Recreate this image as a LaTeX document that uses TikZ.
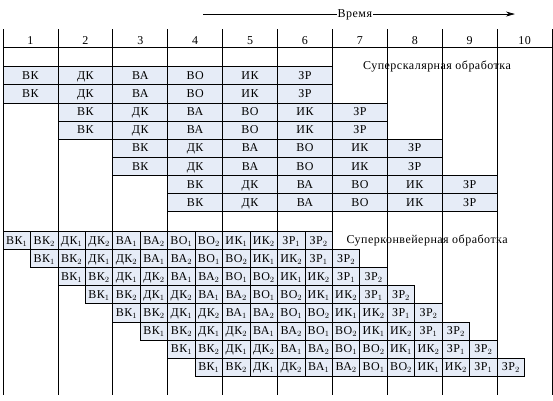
\documentclass[tikz,border=0pt]{standalone}
\usepackage{fontspec}
\setmainfont{Liberation Serif}[LetterSpace=4]
\usetikzlibrary{arrows.meta}

\definecolor{cellblue}{RGB}{230,236,247}

\begin{document}
\begin{tikzpicture}[x=27.45pt,y=-18.1pt,font=\fontsize{12pt}{14pt}\selectfont]
\tikzset{
  stagecell/.style={draw,fill=cellblue,line width=0.75pt,minimum width=54.9pt,minimum height=18.1pt,inner sep=0pt,text height=7.5pt,text depth=0pt},
  halfcell/.style={stagecell,minimum width=27.45pt},
  gridline/.style={line width=0.75pt},
  colnum/.style={anchor=base,inner sep=0pt},
  caption/.style={anchor=base,inner sep=0pt},
  timearrow/.style={-{Stealth[length=9pt,width=5pt]},line width=0.75pt}
}
\useasboundingbox (-3pt,66.7pt) rectangle (550pt,-333.3pt);
% column grid
\draw[gridline] (0,-2.08) -- (0,18.14);
\draw[gridline] (2,-2.08) -- (2,18.14);
\draw[gridline] (4,-2.08) -- (4,18.14);
\draw[gridline] (6,-2.08) -- (6,18.14);
\draw[gridline] (8,-2.08) -- (8,18.14);
\draw[gridline] (10,-2.08) -- (10,18.14);
\draw[gridline] (12,-2.08) -- (12,18.14);
\draw[gridline] (14,-2.08) -- (14,18.14);
\draw[gridline] (16,-2.08) -- (16,18.14);
\draw[gridline] (18,-2.08) -- (18,18.14);
\draw[gridline] (20,-2.08) -- (20,18.14);
\draw[gridline] (0,-1.05) -- (20,-1.05);
% time axis
\coordinate (t_from) at (7.29,-2.91);
\coordinate (t_to) at (18.65,-2.91);
\draw[timearrow] (t_from) -- (t_to);
\node[fill=white,inner sep=1pt,text height=7.5pt,text depth=0pt] (lbl_time) at (12.82,-2.91) {Время};
% column numbers
\node[colnum] (hd_1) at (1,-1.25) {1};
\node[colnum] (hd_2) at (3,-1.25) {2};
\node[colnum] (hd_3) at (5,-1.25) {3};
\node[colnum] (hd_4) at (7,-1.25) {4};
\node[colnum] (hd_5) at (9,-1.25) {5};
\node[colnum] (hd_6) at (11,-1.25) {6};
\node[colnum] (hd_7) at (13,-1.25) {7};
\node[colnum] (hd_8) at (15,-1.25) {8};
\node[colnum] (hd_9) at (17,-1.25) {9};
\node[colnum] (hd_10) at (19,-1.25) {10};
% superscalar
\node[caption] (lbl_ss) at (15.81,0.18) {Суперскалярная обработка};
\node[stagecell] (ss_1_1) at (1,0.5) {ВК};
\node[stagecell] (ss_1_2) at (3,0.5) {ДК};
\node[stagecell] (ss_1_3) at (5,0.5) {ВА};
\node[stagecell] (ss_1_4) at (7,0.5) {ВО};
\node[stagecell] (ss_1_5) at (9,0.5) {ИК};
\node[stagecell] (ss_1_6) at (11,0.5) {ЗР};
\node[stagecell] (ss_2_1) at (1,1.5) {ВК};
\node[stagecell] (ss_2_2) at (3,1.5) {ДК};
\node[stagecell] (ss_2_3) at (5,1.5) {ВА};
\node[stagecell] (ss_2_4) at (7,1.5) {ВО};
\node[stagecell] (ss_2_5) at (9,1.5) {ИК};
\node[stagecell] (ss_2_6) at (11,1.5) {ЗР};
\node[stagecell] (ss_3_1) at (3,2.5) {ВК};
\node[stagecell] (ss_3_2) at (5,2.5) {ДК};
\node[stagecell] (ss_3_3) at (7,2.5) {ВА};
\node[stagecell] (ss_3_4) at (9,2.5) {ВО};
\node[stagecell] (ss_3_5) at (11,2.5) {ИК};
\node[stagecell] (ss_3_6) at (13,2.5) {ЗР};
\node[stagecell] (ss_4_1) at (3,3.5) {ВК};
\node[stagecell] (ss_4_2) at (5,3.5) {ДК};
\node[stagecell] (ss_4_3) at (7,3.5) {ВА};
\node[stagecell] (ss_4_4) at (9,3.5) {ВО};
\node[stagecell] (ss_4_5) at (11,3.5) {ИК};
\node[stagecell] (ss_4_6) at (13,3.5) {ЗР};
\node[stagecell] (ss_5_1) at (5,4.5) {ВК};
\node[stagecell] (ss_5_2) at (7,4.5) {ДК};
\node[stagecell] (ss_5_3) at (9,4.5) {ВА};
\node[stagecell] (ss_5_4) at (11,4.5) {ВО};
\node[stagecell] (ss_5_5) at (13,4.5) {ИК};
\node[stagecell] (ss_5_6) at (15,4.5) {ЗР};
\node[stagecell] (ss_6_1) at (5,5.5) {ВК};
\node[stagecell] (ss_6_2) at (7,5.5) {ДК};
\node[stagecell] (ss_6_3) at (9,5.5) {ВА};
\node[stagecell] (ss_6_4) at (11,5.5) {ВО};
\node[stagecell] (ss_6_5) at (13,5.5) {ИК};
\node[stagecell] (ss_6_6) at (15,5.5) {ЗР};
\node[stagecell] (ss_7_1) at (7,6.5) {ВК};
\node[stagecell] (ss_7_2) at (9,6.5) {ДК};
\node[stagecell] (ss_7_3) at (11,6.5) {ВА};
\node[stagecell] (ss_7_4) at (13,6.5) {ВО};
\node[stagecell] (ss_7_5) at (15,6.5) {ИК};
\node[stagecell] (ss_7_6) at (17,6.5) {ЗР};
\node[stagecell] (ss_8_1) at (7,7.5) {ВК};
\node[stagecell] (ss_8_2) at (9,7.5) {ДК};
\node[stagecell] (ss_8_3) at (11,7.5) {ВА};
\node[stagecell] (ss_8_4) at (13,7.5) {ВО};
\node[stagecell] (ss_8_5) at (15,7.5) {ИК};
\node[stagecell] (ss_8_6) at (17,7.5) {ЗР};
% superpipeline
\node[caption] (lbl_sp) at (15.45,9.77) {Суперконвейерная обработка};
\node[halfcell] (sp_1_1) at (0.5,9.6) {ВК$_1$};
\node[halfcell] (sp_1_2) at (1.5,9.6) {ВК$_2$};
\node[halfcell] (sp_1_3) at (2.5,9.6) {ДК$_1$};
\node[halfcell] (sp_1_4) at (3.5,9.6) {ДК$_2$};
\node[halfcell] (sp_1_5) at (4.5,9.6) {ВА$_1$};
\node[halfcell] (sp_1_6) at (5.5,9.6) {ВА$_2$};
\node[halfcell] (sp_1_7) at (6.5,9.6) {ВО$_1$};
\node[halfcell] (sp_1_8) at (7.5,9.6) {ВО$_2$};
\node[halfcell] (sp_1_9) at (8.5,9.6) {ИК$_1$};
\node[halfcell] (sp_1_10) at (9.5,9.6) {ИК$_2$};
\node[halfcell] (sp_1_11) at (10.5,9.6) {ЗР$_1$};
\node[halfcell] (sp_1_12) at (11.5,9.6) {ЗР$_2$};
\node[halfcell] (sp_2_1) at (1.5,10.6) {ВК$_1$};
\node[halfcell] (sp_2_2) at (2.5,10.6) {ВК$_2$};
\node[halfcell] (sp_2_3) at (3.5,10.6) {ДК$_1$};
\node[halfcell] (sp_2_4) at (4.5,10.6) {ДК$_2$};
\node[halfcell] (sp_2_5) at (5.5,10.6) {ВА$_1$};
\node[halfcell] (sp_2_6) at (6.5,10.6) {ВА$_2$};
\node[halfcell] (sp_2_7) at (7.5,10.6) {ВО$_1$};
\node[halfcell] (sp_2_8) at (8.5,10.6) {ВО$_2$};
\node[halfcell] (sp_2_9) at (9.5,10.6) {ИК$_1$};
\node[halfcell] (sp_2_10) at (10.5,10.6) {ИК$_2$};
\node[halfcell] (sp_2_11) at (11.5,10.6) {ЗР$_1$};
\node[halfcell] (sp_2_12) at (12.5,10.6) {ЗР$_2$};
\node[halfcell] (sp_3_1) at (2.5,11.6) {ВК$_1$};
\node[halfcell] (sp_3_2) at (3.5,11.6) {ВК$_2$};
\node[halfcell] (sp_3_3) at (4.5,11.6) {ДК$_1$};
\node[halfcell] (sp_3_4) at (5.5,11.6) {ДК$_2$};
\node[halfcell] (sp_3_5) at (6.5,11.6) {ВА$_1$};
\node[halfcell] (sp_3_6) at (7.5,11.6) {ВА$_2$};
\node[halfcell] (sp_3_7) at (8.5,11.6) {ВО$_1$};
\node[halfcell] (sp_3_8) at (9.5,11.6) {ВО$_2$};
\node[halfcell] (sp_3_9) at (10.5,11.6) {ИК$_1$};
\node[halfcell] (sp_3_10) at (11.5,11.6) {ИК$_2$};
\node[halfcell] (sp_3_11) at (12.5,11.6) {ЗР$_1$};
\node[halfcell] (sp_3_12) at (13.5,11.6) {ЗР$_2$};
\node[halfcell] (sp_4_1) at (3.5,12.6) {ВК$_1$};
\node[halfcell] (sp_4_2) at (4.5,12.6) {ВК$_2$};
\node[halfcell] (sp_4_3) at (5.5,12.6) {ДК$_1$};
\node[halfcell] (sp_4_4) at (6.5,12.6) {ДК$_2$};
\node[halfcell] (sp_4_5) at (7.5,12.6) {ВА$_1$};
\node[halfcell] (sp_4_6) at (8.5,12.6) {ВА$_2$};
\node[halfcell] (sp_4_7) at (9.5,12.6) {ВО$_1$};
\node[halfcell] (sp_4_8) at (10.5,12.6) {ВО$_2$};
\node[halfcell] (sp_4_9) at (11.5,12.6) {ИК$_1$};
\node[halfcell] (sp_4_10) at (12.5,12.6) {ИК$_2$};
\node[halfcell] (sp_4_11) at (13.5,12.6) {ЗР$_1$};
\node[halfcell] (sp_4_12) at (14.5,12.6) {ЗР$_2$};
\node[halfcell] (sp_5_1) at (4.5,13.6) {ВК$_1$};
\node[halfcell] (sp_5_2) at (5.5,13.6) {ВК$_2$};
\node[halfcell] (sp_5_3) at (6.5,13.6) {ДК$_1$};
\node[halfcell] (sp_5_4) at (7.5,13.6) {ДК$_2$};
\node[halfcell] (sp_5_5) at (8.5,13.6) {ВА$_1$};
\node[halfcell] (sp_5_6) at (9.5,13.6) {ВА$_2$};
\node[halfcell] (sp_5_7) at (10.5,13.6) {ВО$_1$};
\node[halfcell] (sp_5_8) at (11.5,13.6) {ВО$_2$};
\node[halfcell] (sp_5_9) at (12.5,13.6) {ИК$_1$};
\node[halfcell] (sp_5_10) at (13.5,13.6) {ИК$_2$};
\node[halfcell] (sp_5_11) at (14.5,13.6) {ЗР$_1$};
\node[halfcell] (sp_5_12) at (15.5,13.6) {ЗР$_2$};
\node[halfcell] (sp_6_1) at (5.5,14.6) {ВК$_1$};
\node[halfcell] (sp_6_2) at (6.5,14.6) {ВК$_2$};
\node[halfcell] (sp_6_3) at (7.5,14.6) {ДК$_1$};
\node[halfcell] (sp_6_4) at (8.5,14.6) {ДК$_2$};
\node[halfcell] (sp_6_5) at (9.5,14.6) {ВА$_1$};
\node[halfcell] (sp_6_6) at (10.5,14.6) {ВА$_2$};
\node[halfcell] (sp_6_7) at (11.5,14.6) {ВО$_1$};
\node[halfcell] (sp_6_8) at (12.5,14.6) {ВО$_2$};
\node[halfcell] (sp_6_9) at (13.5,14.6) {ИК$_1$};
\node[halfcell] (sp_6_10) at (14.5,14.6) {ИК$_2$};
\node[halfcell] (sp_6_11) at (15.5,14.6) {ЗР$_1$};
\node[halfcell] (sp_6_12) at (16.5,14.6) {ЗР$_2$};
\node[halfcell] (sp_7_1) at (6.5,15.6) {ВК$_1$};
\node[halfcell] (sp_7_2) at (7.5,15.6) {ВК$_2$};
\node[halfcell] (sp_7_3) at (8.5,15.6) {ДК$_1$};
\node[halfcell] (sp_7_4) at (9.5,15.6) {ДК$_2$};
\node[halfcell] (sp_7_5) at (10.5,15.6) {ВА$_1$};
\node[halfcell] (sp_7_6) at (11.5,15.6) {ВА$_2$};
\node[halfcell] (sp_7_7) at (12.5,15.6) {ВО$_1$};
\node[halfcell] (sp_7_8) at (13.5,15.6) {ВО$_2$};
\node[halfcell] (sp_7_9) at (14.5,15.6) {ИК$_1$};
\node[halfcell] (sp_7_10) at (15.5,15.6) {ИК$_2$};
\node[halfcell] (sp_7_11) at (16.5,15.6) {ЗР$_1$};
\node[halfcell] (sp_7_12) at (17.5,15.6) {ЗР$_2$};
\node[halfcell] (sp_8_1) at (7.5,16.6) {ВК$_1$};
\node[halfcell] (sp_8_2) at (8.5,16.6) {ВК$_2$};
\node[halfcell] (sp_8_3) at (9.5,16.6) {ДК$_1$};
\node[halfcell] (sp_8_4) at (10.5,16.6) {ДК$_2$};
\node[halfcell] (sp_8_5) at (11.5,16.6) {ВА$_1$};
\node[halfcell] (sp_8_6) at (12.5,16.6) {ВА$_2$};
\node[halfcell] (sp_8_7) at (13.5,16.6) {ВО$_1$};
\node[halfcell] (sp_8_8) at (14.5,16.6) {ВО$_2$};
\node[halfcell] (sp_8_9) at (15.5,16.6) {ИК$_1$};
\node[halfcell] (sp_8_10) at (16.5,16.6) {ИК$_2$};
\node[halfcell] (sp_8_11) at (17.5,16.6) {ЗР$_1$};
\node[halfcell] (sp_8_12) at (18.5,16.6) {ЗР$_2$};
\end{tikzpicture}
\end{document}
